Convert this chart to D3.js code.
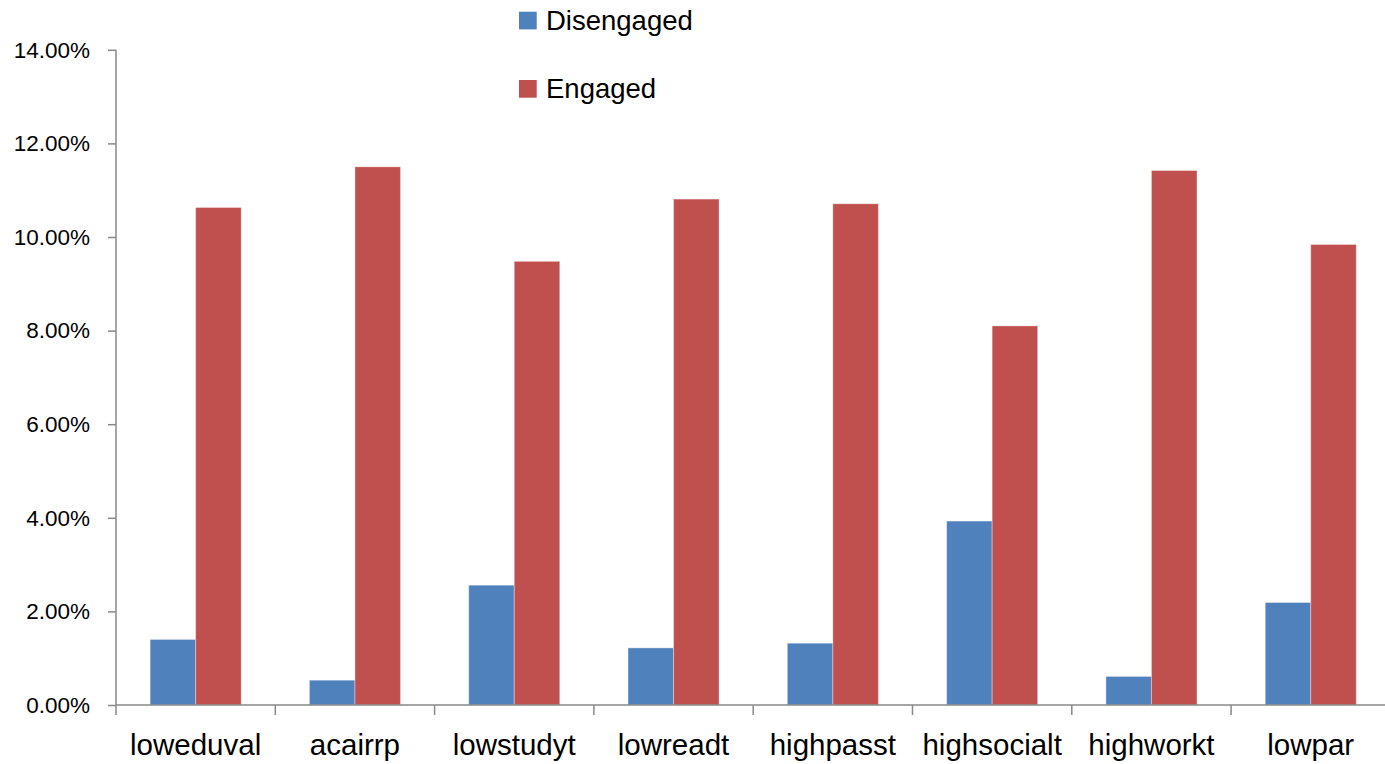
<!DOCTYPE html>
<html>
<head>
<meta charset="utf-8">
<script src="https://cdn.jsdelivr.net/npm/d3@7"></script>
<style>
  html, body { margin: 0; padding: 0; background: #ffffff; }
  svg { display: block; }
  text { font-family: "Liberation Sans", Arial, sans-serif; fill: #000; }
</style>
</head>
<body>
<svg id="chart" width="1385" height="764"></svg>
<script>
// Share of students per indicator, by engagement group
const categories = ["loweduval", "acairrp", "lowstudyt", "lowreadt", "highpasst", "highsocialt", "highworkt", "lowpar"];
const seriesNames = ["Disengaged", "Engaged"];
const disengaged = [0.0140, 0.0053, 0.0256, 0.0122, 0.0132, 0.0393, 0.0061, 0.0219];
const engaged    = [0.1063, 0.1150, 0.0948, 0.1081, 0.1071, 0.0810, 0.1142, 0.0984];
const yTicks = [0, 0.02, 0.04, 0.06, 0.08, 0.10, 0.12, 0.14];
const colors = ["#4F81BD", "#C0504D"];

const rows = categories.map((c, i) => ({ category: c, values: [disengaged[i], engaged[i]] }));

const svg = d3.select("#chart");
const plotLeft = 116, plotBottom = 705, plotTop = 49.8, step = 159.3;
const axisColor = "#898989";

const x0 = d3.scaleBand().domain(categories).range([plotLeft, plotLeft + step * categories.length]).padding(0);
const x1 = d3.scaleBand().domain(seriesNames).range([0, x0.bandwidth()]).paddingInner(0).paddingOuter(0.75);
const y = d3.scaleLinear().domain([0, 0.14]).range([plotBottom, plotTop]);
const fmt = d3.format(".2%");

// Bars
const groups = svg.append("g").selectAll("g").data(rows).join("g")
  .attr("transform", d => `translate(${x0(d.category)},0)`);
groups.selectAll("rect").data(d => d.values.map((v, k) => ({ key: seriesNames[k], v, k })))
  .join("rect")
  .attr("x", d => x1(d.key))
  .attr("y", d => y(d.v))
  .attr("width", x1.bandwidth())
  .attr("height", d => y(0) - y(d.v))
  .attr("fill", d => colors[d.k])
  .attr("stroke", "rgba(255,255,255,0.35)")
  .attr("stroke-width", 1);

// Y axis
const yAxis = d3.axisLeft(y).tickValues(yTicks).tickFormat(fmt).tickSize(8).tickPadding(18);
const gy = svg.append("g").attr("transform", `translate(${plotLeft},0)`).call(yAxis);
gy.select(".domain").remove();
gy.selectAll(".tick line").attr("stroke", axisColor).attr("stroke-width", 1.5);
gy.selectAll(".tick text").style("font-size", "22.5px").attr("fill", "#000");
svg.append("line")
  .attr("x1", plotLeft).attr("x2", plotLeft).attr("y1", plotTop).attr("y2", plotBottom + 10)
  .attr("stroke", axisColor).attr("stroke-width", 1.5);

// X axis baseline and category boundary ticks
svg.append("line")
  .attr("x1", plotLeft).attr("x2", x0.range()[1]).attr("y1", plotBottom).attr("y2", plotBottom)
  .attr("stroke", axisColor).attr("stroke-width", 1.5);
const bounds = categories.slice(1).map(c => x0(c)).concat([x0.range()[1]]);
svg.append("g").selectAll("line").data(bounds).join("line")
  .attr("x1", d => d).attr("x2", d => d).attr("y1", plotBottom).attr("y2", plotBottom + 10)
  .attr("stroke", axisColor).attr("stroke-width", 1.5);

// Category labels
svg.append("g").selectAll("text").data(categories).join("text")
  .attr("x", d => x0(d) + x0.bandwidth() / 2)
  .attr("y", 755)
  .attr("text-anchor", "middle")
  .style("font-size", "29.5px")
  .text(d => d);

// Legend
const legend = svg.append("g").selectAll("g").data(seriesNames).join("g")
  .attr("transform", (d, i) => `translate(519,${11.7 + i * 68.3})`);
legend.append("rect").attr("width", 17.7).attr("height", 17.7).attr("fill", (d, i) => colors[i]);
legend.append("text").attr("x", 27).attr("y", 17.8).style("font-size", "27.5px").text(d => d);
</script>
</body>
</html>
